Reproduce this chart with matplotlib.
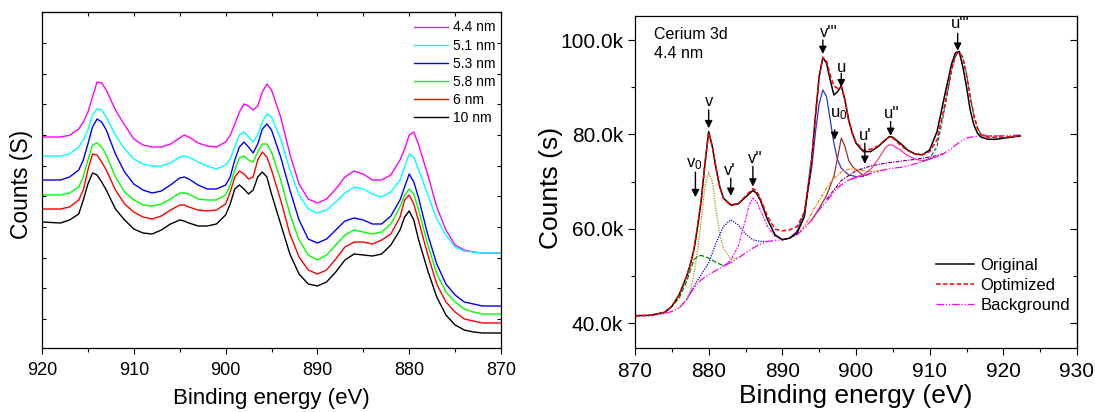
import numpy as np
import matplotlib.pyplot as plt
from matplotlib.ticker import MultipleLocator, FuncFormatter, NullFormatter

plt.rcParams['font.family'] = ['Liberation Sans', 'DejaVu Sans']
plt.rcParams['mathtext.fontset'] = 'custom'
plt.rcParams['mathtext.rm'] = 'Liberation Sans'
plt.rcParams['mathtext.it'] = 'Liberation Sans'

# ── LEFT PANEL DATA (arbitrary units, stacked spectra) ────────────────────────
energy_left = [920, 918, 917, 916, 915.5, 915, 914.5, 914, 913.5, 913,
               912, 911, 910, 909, 908, 907, 906, 905, 904.5, 904,
               903, 902, 901, 900, 899.5, 899, 898.5, 898, 897.5, 897,
               896.5, 896, 895.5, 895, 894, 893, 892, 891, 890, 889,
               888, 887, 886, 885, 884, 883, 882, 881, 880.5, 880,
               879.5, 879, 878, 877, 876, 875, 874, 873, 872, 870]

counts_44 = [211, 211, 212.7, 219, 226, 236, 251, 266, 265, 258,
             238, 223, 209, 203, 201, 201, 204, 210, 213, 211,
             205, 202, 201, 206, 212.7, 224, 236, 244, 242, 238,
             242, 256, 264, 258, 231, 194, 164, 149, 145, 149,
             159, 171, 177, 174, 168, 168, 173, 188, 199, 213,
             216, 204, 174, 141, 118, 103, 98, 96, 95, 95]
counts_51 = [192, 192, 194, 201, 208, 218, 233, 239, 238, 231,
             213, 199, 189, 184, 182, 182, 185, 191, 192, 191,
             186, 182, 179, 183, 189, 201, 213, 216, 211, 206,
             213, 226, 234, 231, 209, 178, 153, 139, 135, 138,
             146, 155, 161, 159, 154, 151, 156, 168, 181, 194,
             191, 179, 154, 129, 113, 101, 97, 96, 95, 95]
counts_53 = [168, 168, 171, 178, 188, 204, 221, 229, 226, 218,
             194, 176, 164, 158, 155, 157, 163, 170, 171, 169,
             163, 159, 159, 163, 171, 188, 201, 206, 201, 195,
             204, 219, 224, 218, 191, 158, 128, 109, 105, 109,
             118, 127, 130, 128, 124, 124, 132, 148, 161, 174,
             166, 151, 114, 84, 64, 53, 46, 44, 42, 42]
counts_58 = [153, 153, 155, 161, 171, 188, 203, 205, 201, 193,
             171, 156, 148, 143, 142, 144, 149, 155, 155, 154,
             149, 148, 148, 153, 163, 178, 190, 192, 188, 186,
             196, 204, 204, 196, 168, 134, 108, 93, 88, 93,
             103, 113, 118, 116, 114, 116, 124, 141, 153, 159,
             154, 139, 104, 74, 56, 46, 39, 36, 34, 34]
counts_6 = [139, 139, 141, 148, 158, 178, 194, 193, 186, 178,
            158, 144, 136, 131, 129, 132, 138, 143, 143, 141,
            138, 137, 138, 144, 156, 171, 177, 174, 169, 171,
            188, 196, 191, 178, 148, 114, 91, 78, 74, 78,
            89, 101, 106, 106, 104, 108, 114, 131, 148, 153,
            144, 128, 94, 64, 46, 36, 29, 27, 25, 25]
counts_10 = [126, 125, 128, 134, 148, 164, 175, 173, 166, 158,
             139, 128, 119, 115, 114, 118, 124, 128, 127, 125,
             122, 122, 124, 133, 144, 159, 163, 159, 154, 158,
             171, 176, 171, 154, 124, 94, 74, 64, 62, 66,
             76, 88, 94, 93, 92, 94, 103, 118, 131, 137,
             128, 109, 78, 51, 33, 23, 18, 16, 15, 15]

left_labels = ['4.4 nm', '5.1 nm', '5.3 nm', '5.8 nm', '6 nm', '10 nm']
left_colors = ['#FF00FF', '#00FFFF', '#0000FF', '#00FF00', '#FF0000', '#000000']

# ── RIGHT PANEL DATA (Ce 3d fit, 4.4 nm) ──────────────────────────────────────
energy_right = [870, 872, 874, 875, 876, 877, 877.5, 878, 878.5, 879,
                879.5, 880, 880.5, 881, 881.5, 882, 883, 884, 885, 886,
                886.5, 887, 888, 889, 890, 891, 892, 893, 894, 894.5,
                895, 895.5, 896, 896.5, 897, 897.5, 898, 898.5, 899, 899.5,
                900, 901, 902, 903, 904, 904.5, 905, 906, 907, 908,
                909, 910, 911, 912, 913, 913.5, 914, 914.5, 915, 915.5,
                916, 916.5, 917, 918, 919, 920, 921, 922.3]

original = [41550, 41620, 42260, 43530, 46000, 49880, 52350, 55530, 60470, 66120,
            73880, 80600, 77410, 72820, 68940, 66470, 65060, 65270, 66680, 68100,
            67530, 66120, 61880, 58710, 57650, 58000, 59060, 62590, 75000, 84000,
            92240, 96330, 95060, 91530, 88350, 89060, 90260, 87300, 83060, 80240,
            78120, 76350, 76350, 77410, 78820, 79530, 79390, 78120, 76700, 75860,
            75650, 76700, 80590, 88000, 95060, 97300, 97600, 94350, 90120, 85180,
            82000, 80240, 79390, 78960, 78960, 79180, 79390, 79670]
optimized = [41550, 41620, 42260, 43530, 46000, 49880, 52350, 55530, 60470, 66120,
             73880, 80300, 77410, 72820, 68940, 66470, 64900, 65270, 66900, 68520,
             68000, 66470, 62590, 59900, 59550, 59760, 60470, 63500, 75000, 84000,
             92240, 96330, 95500, 92600, 90260, 89770, 90260, 87300, 83060, 80240,
             78400, 76600, 76850, 77550, 78900, 79400, 79250, 77760, 76560, 75860,
             75720, 76350, 78800, 85880, 94000, 96800, 97530, 96120, 92590, 88000,
             84120, 81300, 79880, 79390, 79390, 79390, 79530, 79670]
background = [41550, 41620, 41980, 42470, 43180, 44940, 46200, 47410, 48350, 49180,
              49750, 50240, 50700, 51150, 51580, 52000, 52850, 53770, 54820, 55880,
              56300, 56730, 57290, 57510, 57650, 58000, 58710, 60120, 61880, 62900,
              64000, 64900, 65800, 66800, 67800, 68600, 69300, 69850, 70300, 70600,
              70800, 71100, 71700, 72200, 72550, 72700, 72820, 73000, 73320, 73740,
              74170, 74730, 75300, 76000, 77060, 77700, 78260, 78750, 79180, 79400,
              79530, 79600, 79670, 79670, 79670, 79670, 79740, 79880]

# fitted components
v0_e = [874, 875, 876, 877, 878, 878.5, 879, 880, 881, 882, 883]
v0_c = [42120, 43530, 45300, 48800, 53410, 54120, 54330, 53760, 52850, 52140, 52850]
v_e = [876, 877, 877.5, 878, 878.5, 879, 879.5, 880, 880.5, 881, 881.5, 882, 883, 884]
v_c = [43180, 44940, 46800, 50300, 55500, 62000, 69000, 72000, 70000, 64000, 59060, 55800, 53600, 53770]
v1_e = [877, 878, 879, 880, 881, 882, 883, 884, 885, 886, 887, 888]
v1_c = [44940, 47800, 50300, 52700, 56940, 60470, 61880, 60820, 58920, 57650, 57290, 57290]
v2_e = [882, 883, 884, 885, 885.5, 886, 886.5, 887, 888, 889, 890, 891]
v2_c = [52000, 53300, 56240, 61880, 65000, 66470, 65770, 64000, 60470, 58350, 57790, 58000]
v3_e = [891, 892, 893, 894, 894.5, 895, 895.5, 896, 896.5, 897, 897.5, 898, 899, 900, 901]
v3_c = [58000, 59500, 63500, 73000, 80500, 86500, 89410, 88000, 83060, 78120, 74590, 72820, 71410, 71060, 71100]
u0_e = [894, 895, 896, 897, 897.5, 898, 898.5, 899, 899.5, 900, 901, 902]
u0_c = [61880, 64300, 67000, 71120, 75000, 79200, 77480, 74500, 73200, 72500, 71300, 71700]
u1_e = [892, 893, 894, 895, 896, 897, 898, 899, 900, 901, 902, 903, 904]
u1_c = [58710, 60500, 63300, 66000, 68600, 70700, 72000, 72600, 72600, 72300, 72100, 72200, 72550]
u2_e = [899, 900, 901, 902, 903, 904, 904.5, 905, 906, 907, 908, 909, 910, 911]
u2_c = [70300, 70900, 71500, 72600, 74700, 77200, 77800, 77700, 76700, 75500, 74800, 74400, 74800, 75300]
ub_e = [896, 898, 900, 902, 904, 906, 908, 910, 911, 912]
ub_c = [66200, 70200, 72300, 73300, 73900, 74300, 74700, 75200, 75500, 76000]
u3_e = [909, 910, 911, 912, 913, 913.5, 914, 914.5, 915, 915.5, 916, 916.5, 917, 918, 919, 920]
u3_c = [74170, 74900, 77410, 85180, 93650, 96470, 97530, 96400, 93000, 88000, 83800, 81200, 80000, 79670, 79670, 79670]

# peak labels: text, text position, arrow tail, arrow tip
peak_text = ["v", "v$_0$", "v'", "v''", "v'''", "u", "u$_0$", "u'", "u''", "u'''"]
peak_text_xy = [(880.0, 86900), (878.0, 73600), (882.8, 72300), (886.3, 74800), (896.3, 101600),
                (898.0, 94200), (897.6, 84300), (901.3, 79700), (904.9, 84500), (914.1, 103500)]
arrow_tail = [(880.0, 85200), (878.2, 72000), (883.0, 70700), (886.0, 73180), (895.5, 100000),
              (898.0, 92940), (897.1, 80940), (901.2, 78120), (904.7, 82710), (913.8, 101410)]
arrow_tip = [(880.0, 81300), (878.2, 66680), (883.0, 66970), (886.0, 68940), (895.5, 97040),
             (898.0, 89980), (897.1, 78820), (901.2, 73740), (904.7, 79670), (913.8, 97740)]


# ── FIGURE ────────────────────────────────────────────────────────────────────
fig = plt.figure(figsize=(10.95, 4.12), dpi=100)
ax1 = fig.add_axes([42 / 1095, 64 / 412, 459 / 1095, 336 / 412])
ax2 = fig.add_axes([635 / 1095, 64 / 412, 442 / 1095, 332 / 412])

# left panel
series = [counts_44, counts_51, counts_53, counts_58, counts_6, counts_10]
for y, lab, col in zip(series, left_labels, left_colors):
    ax1.plot(energy_left, y, color=col, lw=1.0, label=lab)

ax1.set_xlim(920, 870)
ax1.set_ylim(0, 336)
ax1.xaxis.set_major_locator(MultipleLocator(10))
ax1.xaxis.set_minor_locator(MultipleLocator(5))
ax1.set_yticks(np.arange(29, 330, 30.67))
ax1.yaxis.set_major_formatter(NullFormatter())
ax1.tick_params(axis='x', which='both', direction='out', top=False, labelsize=13, pad=6)
ax1.tick_params(axis='x', which='major', length=4, width=0.8)
ax1.tick_params(axis='x', which='minor', length=3, width=0.8)
ax1.tick_params(axis='y', which='both', direction='in', right=True, length=3, width=0.8)
top1 = ax1.secondary_xaxis('top')
top1.xaxis.set_major_locator(MultipleLocator(5))
top1.tick_params(direction='in', length=3, width=0.8, labeltop=False)
ax1.set_xlabel('Binding energy (eV)', fontsize=16)
ax1.set_ylabel('Counts (S)', fontsize=16.5)
ax1.xaxis.set_label_coords(0.499, -0.118)
ax1.yaxis.set_label_coords(-0.02, 0.488)
for s in ax1.spines.values():
    s.set_linewidth(0.9)
ax1.legend(loc='upper right', bbox_to_anchor=(0.987, 0.975), frameon=False,
           fontsize=10, handlelength=2.5, handletextpad=0.3, labelspacing=0.3,
           borderpad=0, borderaxespad=0)

# right panel
comps = [(v0_e, v0_c, '#008000', (0, (4, 1.5))),
         (v_e, v_c, '#999900', (0, (1, 1))),
         (v1_e, v1_c, '#0000FF', (0, (1, 1))),
         (v2_e, v2_c, '#FF00FF', (0, (2, 1, 1, 1))),
         (v3_e, v3_c, '#3333CC', '-'),
         (u0_e, u0_c, '#993333', '-'),
         (u1_e, u1_c, '#FF8000', (0, (3, 1, 1, 1))),
         (ub_e, ub_c, '#800080', (0, (3, 1, 1, 1))),
         (u2_e, u2_c, '#FF3399', '-'),
         (u3_e, u3_c, '#008080', (0, (3, 1.5)))]
for ex, cy, col, ls in comps:
    ax2.plot(ex, cy, color=col, lw=0.9, ls=ls)

ax2.plot(energy_right, background, color='#FF00FF', lw=0.9,
         ls=(0, (6, 1.5, 1, 1.5, 1, 1.5)), label='Background')
ax2.plot(energy_right, original, color='black', lw=1.1, label='Original')
ax2.plot(energy_right, optimized, color='red', lw=1.1, ls=(0, (3, 1.5)), label='Optimized')

for t, txy, tail, tip in zip(peak_text, peak_text_xy, arrow_tail, arrow_tip):
    ax2.text(txy[0], txy[1], t, ha='center', va='center', fontsize=12)
    ax2.annotate('', xy=tip, xytext=tail,
                 arrowprops=dict(arrowstyle='-|>', color='black', lw=1.0,
                                 mutation_scale=11, shrinkA=0, shrinkB=0))

ax2.text(872.6, 100300, 'Cerium 3d', fontsize=11.5, va='baseline')
ax2.text(872.6, 96260, '4.4 nm', fontsize=11.5, va='baseline')

ax2.set_xlim(870, 930)
ax2.set_ylim(34700, 105100)
ax2.xaxis.set_major_locator(MultipleLocator(10))
ax2.xaxis.set_minor_locator(MultipleLocator(5))
ax2.yaxis.set_major_locator(MultipleLocator(20000))
ax2.yaxis.set_minor_locator(MultipleLocator(10000))
ax2.yaxis.set_major_formatter(FuncFormatter(lambda v, p: f'{v / 1000:.1f}k'))
ax2.tick_params(axis='both', which='both', direction='out', labelsize=15, width=0.8)
ax2.tick_params(axis='both', which='major', length=5)
ax2.tick_params(axis='both', which='minor', length=3)
ax2.tick_params(axis='x', which='major', pad=5)
right2 = ax2.secondary_yaxis('right')
right2.yaxis.set_major_locator(MultipleLocator(20000))
right2.yaxis.set_minor_locator(MultipleLocator(10000))
right2.tick_params(which='both', direction='in', width=0.8, labelright=False)
right2.tick_params(which='major', length=5)
right2.tick_params(which='minor', length=3)
ax2.set_xlabel('Binding energy (eV)', fontsize=19)
ax2.set_ylabel('Counts (s)', fontsize=19)
ax2.xaxis.set_label_coords(0.5, -0.108)
ax2.yaxis.set_label_coords(-0.163, 0.482)
for s in ax2.spines.values():
    s.set_linewidth(0.9)

h, l = ax2.get_legend_handles_labels()
order = [l.index('Original'), l.index('Optimized'), l.index('Background')]
ax2.legend([h[i] for i in order], [l[i] for i in order], loc='lower right',
           bbox_to_anchor=(0.985, 0.105), frameon=False, fontsize=12,
           handlelength=2.3, handletextpad=0.4, labelspacing=0.3,
           borderpad=0, borderaxespad=0)

fig.savefig('out.png', dpi=100)
